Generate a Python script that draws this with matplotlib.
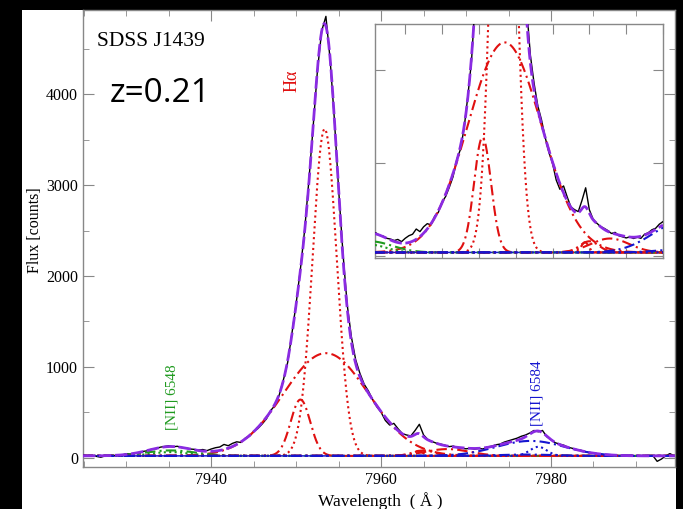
import numpy as np
import matplotlib.pyplot as plt
from matplotlib.patches import Rectangle
from matplotlib.ticker import MultipleLocator

plt.rcParams['font.family'] = ['Liberation Serif', 'DejaVu Serif']

# observed spectrum, 0.5 A steps from 7925 A
wave = np.arange(7925.0, 7995.0, 0.5)
flux = [28, 22, 25, 14, 5, 20, 26, 22, 33, 30,
        44, 40, 52, 48, 70, 76, 95, 98, 116, 124,
        131, 120, 126, 112, 108, 96, 92, 84, 90, 78,
        96, 110, 118, 146, 132, 158, 175, 168, 215, 236,
        290, 322, 372, 428, 520, 575, 690, 860, 1050, 1370,
        1700, 2080, 2510, 3060, 3650, 4260, 4700, 4860, 4380, 3720,
        2950, 2260, 1690, 1330, 1080, 930, 810, 735, 640, 560,
        500, 410, 360, 378, 318, 265, 250, 240, 300, 368,
        250, 200, 178, 160, 150, 138, 122, 128, 110, 104,
        98, 104, 95, 102, 96, 118, 126, 142, 150, 172,
        186, 200, 215, 236, 250, 272, 300, 286, 300, 232,
        198, 165, 150, 138, 115, 104, 90, 82, 68, 55,
        52, 40, 38, 30, 32, 26, 22, 28, 20, 24,
        18, 22, 20, 18, 22, -40, -15, 20, 45, 20]

continuum = 20

# gaussian components of the fit
comp_center = [7953.5, 7953.35, 7950.5, 7935.2, 7935.2, 7964.4, 7965.0, 7967.8, 7977.6, 7978.5, 7977.0]
comp_sigma = [5.0, 1.42, 1.15, 3.0, 2.2, 0.5, 1.3, 2.6, 4.0, 1.0, 3.0]
comp_amp = [1131, 3600, 620, 60, 42, 55, 60, 75, 165, 100, 15]

red = '#e01010'
green = '#1f9a1f'
blue = '#1515d0'
comp_color = [red, red, red, green, green, red, red, red, blue, blue, blue]
dashdot = (5, 2, 1, 2)
dotted = (1, 1.6)
comp_dash = [dashdot, dotted, dashdot, dashdot, dotted, dashdot, dashdot, dashdot, dashdot, dotted, dashdot]

xfine = np.linspace(7924, 7996, 2000)
comps = []
for c, s, a in zip(comp_center, comp_sigma, comp_amp):
    comps.append(a * np.exp(-(xfine - c)**2 / (2 * s**2)))
total = continuum + np.sum(comps, axis=0)


def draw(ax):
    ax.plot(xfine, np.full_like(xfine, continuum), color=blue, lw=1.1, zorder=2)
    ax.plot(wave, flux, color='black', lw=1.0, zorder=3)
    for y, col, d in zip(comps, comp_color, comp_dash):
        ax.plot(xfine, continuum + y, color=col, lw=1.5, dashes=d, zorder=4)
    ax.plot(xfine, total, color='#8a2be2', lw=2.0, dashes=(4.5, 1.3), zorder=5)
    for sp in ax.spines.values():
        sp.set_color('#888888')
        sp.set_linewidth(1.0)
    ax.tick_params(which='both', direction='in', top=True, right=True, color='#888888')


fig = plt.figure(figsize=(6.83, 5.09), dpi=100, facecolor='black')
fig.add_artist(Rectangle((22 / 683, 0), 654 / 683, 499 / 509, transform=fig.transFigure,
                         facecolor='white', edgecolor='none', zorder=-10))

ax = fig.add_axes([83 / 683, 42.3 / 509, 592 / 683, 456.7 / 509])
draw(ax)
ax.set_xlim(7924.9, 7994.6)
ax.set_ylim(-99, 4930)
ax.xaxis.set_major_locator(MultipleLocator(20))
ax.xaxis.set_minor_locator(MultipleLocator(5))
ax.yaxis.set_major_locator(MultipleLocator(1000))
ax.yaxis.set_minor_locator(MultipleLocator(500))
ax.tick_params(which='major', length=8, labelsize=11.5)
ax.tick_params(which='minor', length=4.5)
ax.set_xlabel('Wavelength  ( Å )', fontsize=12.5)
ax.set_ylabel('Flux [counts]', fontsize=11.5)
ax.xaxis.set_label_coords(0.502, -0.055)
ax.yaxis.set_label_coords(-0.068, 0.518)

ax.text(7926.5, 4578, 'SDSS J1439', fontsize=15.5, va='center', ha='left')
ax.text(7928.0, 4015, 'z=0.21', fontsize=24, va='center', ha='left', family='Open Sans')
ax.text(7949.5, 4149, 'Hα', fontsize=13, color=red, rotation=90, va='center', ha='center')
ax.text(7935.4, 668, '[NII] 6548', fontsize=11, color=green, rotation=90, va='center', ha='center')
ax.text(7978.4, 712, '[NII] 6584', fontsize=11, color=blue, rotation=90, va='center', ha='center')

axins = fig.add_axes([375 / 683, 251 / 509, 288 / 683, 234 / 509])
axins.set_facecolor('white')
draw(axins)
axins.set_xlim(7935.9, 7975.0)
axins.set_ylim(-10, 1250)
axins.xaxis.set_major_locator(MultipleLocator(5))
axins.yaxis.set_major_locator(MultipleLocator(500))
axins.tick_params(which='major', length=7)
axins.set_xticklabels([])
axins.set_yticklabels([])

fig.savefig('out.png', dpi=100, facecolor='black')
